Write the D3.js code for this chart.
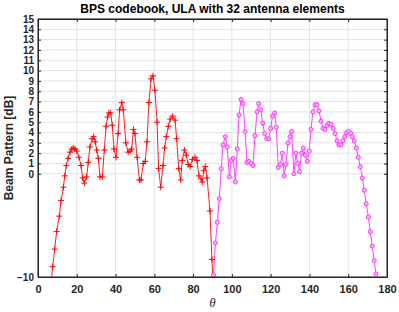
<!DOCTYPE html>
<html>
<head>
<meta charset="utf-8">
<script src="https://cdn.jsdelivr.net/npm/d3@7"></script>
<style>
  body { margin: 0; background: #fff; }
  text { font-family: "Liberation Sans", Arial, sans-serif; }
</style>
</head>
<body>
<div id="vis"></div>
<script>
// chart data
let redTheta = [6.6, 7.6, 8.6, 9.6, 11.0, 11.9, 13.1, 13.8, 14.6, 15.5, 16.5, 17.4, 18.2, 19.1, 20.0, 21.1, 22.2, 23.0, 23.9, 25.1,
  25.9, 26.8, 27.9, 28.7, 29.5, 30.3, 31.1, 32.0, 33.2, 34.2, 35.1, 35.9, 36.6, 37.5, 38.3, 39.2, 40.2, 41.3, 42.1, 43.2,
  44.0, 45.3, 46.5, 47.5, 48.3, 49.2, 50.0, 51.1, 52.3, 53.1, 54.3, 55.3, 56.2, 57.2, 58.3, 59.3, 60.3, 61.4, 62.2, 63.3,
  64.5, 65.3, 66.2, 67.2, 68.2, 69.5, 70.7, 71.5, 72.6, 73.6, 74.4, 75.5, 76.5, 77.5, 78.5, 79.6, 81.0, 82.0, 83.0, 84.1,
  84.7, 85.5, 86.3, 87.2, 88.7, 89.7, 90.7];
let redDb = [-11, -9.0, -7.3, -5.6, -4.1, -2.6, -1.3, -0.2, 0.8, 1.5, 2.1, 2.4, 2.5, 2.4, 2.2, 1.6, 0.8, -0.4, -0.9, -0.3,
  1.1, 2.6, 3.4, 3.6, 3.1, 2.3, 1.5, -0.3, -0.3, 2.3, 4.6, 5.5, 5.9, 5.9, 4.7, 2.4, 1.6, 3.9, 6.2, 6.9,
  6.2, 3.0, 2.1, 2.2, 2.4, 4.3, 3.9, 1.6, -0.6, -0.6, 1.0, 1.2, 3.1, 6.9, 9.2, 9.5, 8.1, 5.0, 0.5, -1.3,
  0.8, 2.5, 3.6, 4.6, 5.3, 5.6, 5.2, 3.4, 0.5, -0.6, 1.3, 2.3, 1.8, 0.9, 0.7, 1.4, 1.6, 1.3, -0.2, -0.5,
  -0.8, 0.3, 0.7, -0.4, -3.6, -8.3, -12];

let magTheta = [90.5, 91.5, 92.5, 93.5, 94.5, 95.4, 96.6, 97.6, 98.7, 99.7, 100.7, 101.8, 102.8, 103.7, 104.7, 105.7, 106.8, 107.8, 108.8, 109.9,
  110.9, 111.9, 113.0, 113.8, 114.9, 115.9, 116.9, 118.0, 119.0, 120.0, 121.0, 122.1, 122.9, 123.9, 125.0, 126.0, 127.0, 127.9, 128.9, 130.0,
  130.8, 132.0, 133.0, 134.0, 134.9, 135.9, 136.8, 137.9, 138.9, 139.9, 140.8, 141.8, 142.9, 143.9, 144.9, 146.0, 147.0, 148.0, 149.1, 150.1,
  151.1, 152.2, 153.2, 154.2, 155.2, 156.3, 157.2, 158.2, 159.2, 160.2, 161.3, 162.1, 163.1, 164.2, 165.2, 166.2, 167.3, 168.3, 169.3, 170.4,
  171.4, 172.4, 173.4, 174.3];
let magDb = [-9.8, -6.7, -4.7, -2.4, 0.5, 2.8, 3.6, 2.6, -0.3, 1.3, 1.5, -0.8, 2.4, 5.7, 7.2, 6.8, 4.1, 1.1, 1.2, 1.0,
  0.8, 3.7, 6.0, 6.8, 6.2, 4.9, 3.9, 3.4, 3.4, 4.4, 5.6, 5.9, 4.5, 0.6, 0.9, 2.0, -0.2, 0.9, 3.0, 3.6,
  4.1, 0.0, 2.0, 1.0, 0.2, 2.0, 2.5, 1.8, 1.2, 2.2, 4.3, 6.0, 6.7, 6.7, 6.1, 5.1, 4.4, 4.3, 4.7, 4.9,
  4.8, 4.4, 3.9, 3.2, 2.8, 2.8, 3.2, 3.6, 4.0, 4.1, 3.9, 3.6, 3.2, 2.5, 1.6, 0.7, -0.4, -1.6, -2.9, -4.2,
  -5.6, -7.0, -8.4, -9.7];

let xTicks = [0, 20, 40, 60, 80, 100, 120, 140, 160, 180];
let yTicks = [-10, 0, 1, 2, 3, 4, 5, 6, 7, 8, 9, 10, 11, 12, 13, 14, 15];

let W = 399, H = 312;
let margin = { top: 19, left: 38, right: 12, bottom: 35 },
  width = W - margin.left - margin.right,
  height = H - margin.top - margin.bottom;

let svg = d3.select('#vis')
  .append('svg')
  .attr('width', W)
  .attr('height', H);

let g = svg.append('g')
  .attr('transform', `translate(${margin.left},${margin.top})`);

let x = d3.scaleLinear().domain([0, 180]).range([0, width]);
let y = d3.scaleLinear().domain([-10, 15]).range([height, 0]);

// grid
g.selectAll('.gx').data(xTicks).enter().append('line')
  .attr('x1', d => x(d)).attr('x2', d => x(d))
  .attr('y1', 0).attr('y2', height)
  .attr('stroke', '#e3e3e3').attr('stroke-width', 1);
g.selectAll('.gy').data(yTicks).enter().append('line')
  .attr('x1', 0).attr('x2', width)
  .attr('y1', d => y(d)).attr('y2', d => y(d))
  .attr('stroke', '#e3e3e3').attr('stroke-width', 1);

g.append('clipPath').attr('id', 'clip')
  .append('rect').attr('width', width).attr('height', height);

let plot = g.append('g').attr('clip-path', 'url(#clip)');

let red = redTheta.map((t, i) => [t, redDb[i]]);
let mag = magTheta.map((t, i) => [t, magDb[i]]);

let line = d3.line().x(d => x(d[0])).y(d => y(d[1]));

plot.append('path').datum(red)
  .attr('d', line).attr('fill', 'none')
  .attr('stroke', '#ff2020').attr('stroke-width', 1);
plot.append('path').datum(mag)
  .attr('d', line).attr('fill', 'none')
  .attr('stroke', '#ff40ff').attr('stroke-width', 1);

// '+' markers
plot.selectAll('.plus').data(red).enter().append('path')
  .attr('transform', d => `translate(${x(d[0])},${y(d[1])})`)
  .attr('d', 'M-3,0H3M0,-3V3')
  .attr('stroke', '#ff0000').attr('stroke-width', 1).attr('fill', 'none');

// 'o' markers
plot.selectAll('.circ').data(mag).enter().append('circle')
  .attr('cx', d => x(d[0])).attr('cy', d => y(d[1]))
  .attr('r', 2)
  .attr('stroke', '#ff33ff').attr('stroke-width', 1).attr('fill', '#ffb3ff');

// axes box
g.append('rect').attr('width', width).attr('height', height)
  .attr('fill', 'none').attr('stroke', '#262626').attr('stroke-width', 1);

let xAxis = g.append('g')
  .attr('transform', `translate(0,${height})`)
  .call(d3.axisBottom(x).tickValues(xTicks).tickSizeInner(-3).tickSizeOuter(0).tickPadding(8));
let yAxis = g.append('g')
  .call(d3.axisLeft(y).tickValues(yTicks).tickSizeInner(-3).tickSizeOuter(0).tickPadding(4));
// ticks on top and right
g.append('g').call(d3.axisTop(x).tickValues(xTicks).tickSizeInner(-3).tickSizeOuter(0).tickFormat(''));
g.append('g').attr('transform', `translate(${width},0)`)
  .call(d3.axisRight(y).tickValues(yTicks).tickSizeInner(-3).tickSizeOuter(0).tickFormat(''));

g.selectAll('.domain').attr('stroke', '#262626');
g.selectAll('.tick line').attr('stroke', '#262626');
xAxis.selectAll('text')
  .attr('fill', '#262626')
  .style('font-size', '11px')
  .style('font-weight', 'bold');
yAxis.selectAll('text')
  .attr('fill', '#262626')
  .style('font-size', '10px')
  .style('font-weight', 'bold');

// title
svg.append('text')
  .attr('x', margin.left + width / 2).attr('y', 13)
  .attr('text-anchor', 'middle')
  .style('font-size', '12px').style('font-weight', 'bold')
  .attr('fill', '#000')
  .text('BPS codebook, ULA with 32 antenna elements');

// y label
svg.append('text')
  .attr('transform', `translate(13,${margin.top + height / 2}) rotate(-90)`)
  .attr('text-anchor', 'middle')
  .style('font-size', '12px').style('font-weight', 'bold')
  .attr('fill', '#262626')
  .text('Beam Pattern [dB]');

// x label
svg.append('text')
  .attr('x', margin.left + width / 2).attr('y', 307)
  .attr('text-anchor', 'middle')
  .style('font-size', '13px').style('font-style', 'italic')
  .style('font-family', '"Liberation Serif", "DejaVu Serif", serif')
  .attr('fill', '#262626')
  .text('θ');
</script>
</body>
</html>
